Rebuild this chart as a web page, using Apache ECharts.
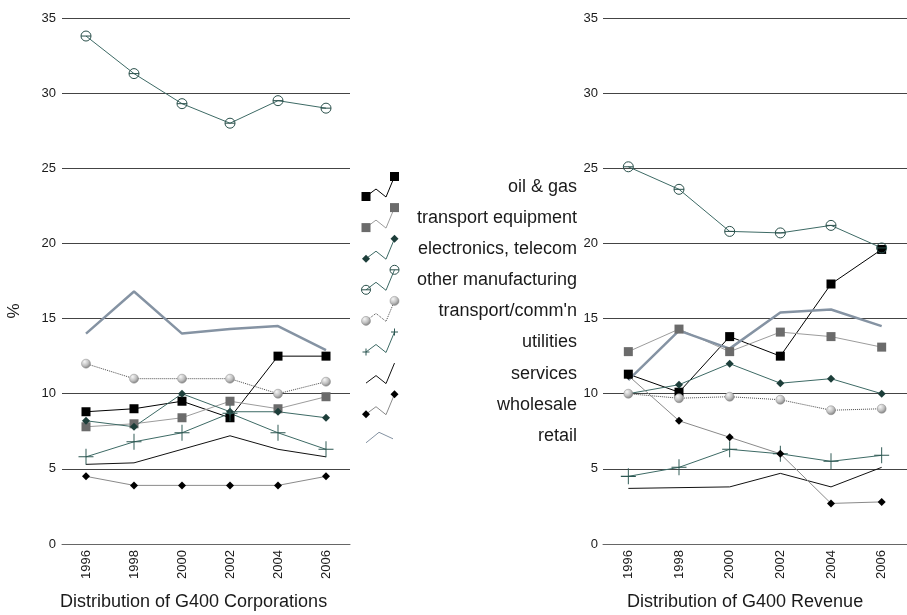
<!DOCTYPE html>
<html><head><meta charset="utf-8">
<script src="https://cdn.jsdelivr.net/npm/echarts@6/dist/echarts.min.js"></script>
<style>html,body{margin:0;padding:0;background:#fff}#c{width:907px;height:615px}</style>
</head><body><div id="c"></div>
<script>
// ---- data ----
const years = ['1996', '1998', '2000', '2002', '2004', '2006'];
const seriesNames = ['oil & gas', 'transport equipment', 'electronics, telecom', 'other manufacturing',
  "transport/comm'n", 'utilities', 'services', 'wholesale', 'retail'];
const panelTitles = ['Distribution of G400 Corporations', 'Distribution of G400 Revenue'];
const yAxisName = '%';
const yMin = 0, yMax = 35, yStep = 5;

// Distribution of G400 Corporations (%)
const oilGasCorp       = [8.8, 9.0, 9.5, 8.4, 12.5, 12.5];
const transEquipCorp   = [7.8, 8.0, 8.4, 9.5, 9.0, 9.8];
const electronicsCorp  = [8.2, 7.8, 10.0, 8.8, 8.8, 8.4];
const otherMfgCorp     = [33.8, 31.3, 29.3, 28.0, 29.5, 29.0];
const transCommCorp    = [12.0, 11.0, 11.0, 11.0, 10.0, 10.8];
const utilitiesCorp    = [5.8, 6.8, 7.4, 8.7, 7.4, 6.3];
const servicesCorp     = [5.3, 5.4, 6.3, 7.2, 6.3, 5.8];
const wholesaleCorp    = [4.5, 3.9, 3.9, 3.9, 3.9, 4.5];
const retailCorp       = [14.0, 16.8, 14.0, 14.3, 14.5, 12.9];

// Distribution of G400 Revenue (%)
const oilGasRev        = [11.3, 10.1, 13.8, 12.5, 17.3, 19.6];
const transEquipRev    = [12.8, 14.3, 12.8, 14.1, 13.8, 13.1];
const electronicsRev   = [10.0, 10.6, 12.0, 10.7, 11.0, 10.0];
const otherMfgRev      = [25.1, 23.6, 20.8, 20.7, 21.2, 19.7];
const transCommRev     = [10.0, 9.7, 9.8, 9.6, 8.9, 9.0];
const utilitiesRev     = [4.5, 5.1, 6.3, 6.0, 5.5, 5.9];
const servicesRev      = [3.7, 3.75, 3.8, 4.7, 3.8, 5.1];
const wholesaleRev     = [11.2, 8.2, 7.1, 6.0, 2.7, 2.8];
const retailRev        = [10.9, 14.2, 13.0, 15.4, 15.6, 14.5];

const corpData = [oilGasCorp, transEquipCorp, electronicsCorp, otherMfgCorp, transCommCorp, utilitiesCorp, servicesCorp, wholesaleCorp, retailCorp];
const revData  = [oilGasRev, transEquipRev, electronicsRev, otherMfgRev, transCommRev, utilitiesRev, servicesRev, wholesaleRev, retailRev];

// ---- styles ----
const FONT = '"Liberation Sans", Arial, sans-serif';
const TEXT = '#1a1a1a';
const teal = '#3d6a65';
const sphere = {type: 'radial', x: 0.35, y: 0.3, r: 0.75, colorStops: [
  {offset: 0, color: '#f6f6f6'}, {offset: 0.55, color: '#c0c0c0'}, {offset: 1, color: '#7a7a7a'}]};
const circleMinus = 'path://M5,0A5,5,0,1,1,5,10A5,5,0,1,1,5,0ZM0,5L10,5';
const plusSym = 'path://M0,5L10,5M5,0L5,10';
const styles = {
  'oil & gas':            {line: '#000', w: 1, symbol: 'rect', size: 9, fill: '#000'},
  'transport equipment':  {line: '#9c9c9c', w: 1, symbol: 'rect', size: 9, fill: '#6b6b6b'},
  'electronics, telecom': {line: teal, w: 1, symbol: 'diamond', size: 8, fill: '#1d3e3a'},
  'other manufacturing':  {line: teal, w: 1, symbol: circleMinus, size: 10, fill: 'rgba(0,0,0,0)', border: '#2a504b', bw: 1},
  "transport/comm'n":     {line: '#4a4a4a', w: 1, type: 'dotted', symbol: 'circle', size: 9, fill: sphere, border: '#8c8c8c', bw: 0.5},
  'utilities':            {line: teal, w: 1, symbol: plusSym, size: [15, 16], fill: 'rgba(0,0,0,0)', border: '#2c5752', bw: 1},
  'services':             {line: '#111', w: 1, symbol: 'none'},
  'wholesale':            {line: '#8a8a8a', w: 1, symbol: 'diamond', size: 8, fill: '#000'},
  'retail':               {line: '#8593a3', w: 2.5, symbol: 'none'}
};

function mkSeries(name, data, idx) {
  const s = styles[name];
  return {
    name: name, type: 'line', data: data,
    xAxisIndex: idx, yAxisIndex: idx,
    symbol: s.symbol, symbolSize: s.size || 0, showSymbol: s.symbol !== 'none',
    lineStyle: {color: s.line, width: s.w, type: s.type || 'solid'},
    itemStyle: {color: s.fill || s.line, borderColor: s.border || s.fill || s.line, borderWidth: s.bw || 0},
    emphasis: {disabled: true}, animation: false, z: 3
  };
}

const series = [];
seriesNames.forEach((n, i) => series.push(mkSeries(n, corpData[i], 0)));
seriesNames.forEach((n, i) => series.push(mkSeries(n, revData[i], 1)));

const grids = [
  {left: 62, top: 18, width: 288, height: 526},
  {left: 603, top: 18, width: 305, height: 526}
];

function xAx(idx) {
  return {
    type: 'category', gridIndex: idx, data: years, boundaryGap: true,
    axisLine: {show: true, lineStyle: {color: '#666', width: 1}},
    axisTick: {show: false},
    axisLabel: {rotate: 90, fontSize: 13, color: TEXT, fontFamily: FONT, margin: 6}
  };
}
function yAx(idx) {
  return {
    type: 'value', gridIndex: idx, min: yMin, max: yMax, interval: yStep,
    axisLine: {show: false}, axisTick: {show: false},
    axisLabel: {fontSize: 13, color: TEXT, fontFamily: FONT, margin: idx === 0 ? 6 : 5},
    splitLine: {show: true, lineStyle: {color: '#444', width: 1}}
  };
}

// ---- legend icon decoration ----
const legTop = 172, rowH = 31.1, itemH = 30, ix = 360;
function icon(name, i) {
  const cy = legTop + itemH / 2 + i * rowH;
  const s = styles[name];
  const els = [];
  if (name === 'retail') {
    els.push({type: 'polyline', shape: {points: [[366, cy + 7], [379, cy - 3.5], [393, cy + 3]]},
      style: {stroke: s.line, lineWidth: 1, fill: null}});
    return els;
  }
  const pts = [[366, cy + 9.5], [376, cy + 2], [386, cy + 10], [394.5, cy - 10.5]];
  els.push({type: 'polyline', shape: {points: pts}, style: {stroke: s.line, lineWidth: 1, fill: null, lineDash: s.type === 'dotted' ? [1, 1] : null}});
  [pts[0], pts[3]].forEach(p => {
    const [x, y] = p;
    if (s.symbol === 'rect') els.push({type: 'rect', shape: {x: x - 4.5, y: y - 4.5, width: 9, height: 9}, style: {fill: s.fill}});
    else if (s.symbol === 'diamond') els.push({type: 'polygon', shape: {points: [[x, y - 4], [x + 4, y], [x, y + 4], [x - 4, y]]}, style: {fill: s.fill}});
    else if (s.symbol === circleMinus) {
      els.push({type: 'circle', shape: {cx: x, cy: y, r: 4.5}, style: {fill: null, stroke: s.border, lineWidth: 1}});
      els.push({type: 'line', shape: {x1: x - 4.5, y1: y, x2: x + 4.5, y2: y}, style: {stroke: s.border, lineWidth: 1}});
    } else if (s.symbol === 'circle') {
      els.push({type: 'circle', shape: {cx: x, cy: y, r: 4.5}, style: {fill: new echarts.graphic.RadialGradient(0.35, 0.3, 0.75, sphere.colorStops), stroke: '#8c8c8c', lineWidth: 0.5}});
    } else if (s.symbol === plusSym) {
      els.push({type: 'line', shape: {x1: x - 3.5, y1: y, x2: x + 3.5, y2: y}, style: {stroke: s.border, lineWidth: 1}});
      els.push({type: 'line', shape: {x1: x, y1: y - 3.5, x2: x, y2: y + 3.5}, style: {stroke: s.border, lineWidth: 1}});
    }
  });
  return els;
}
let iconEls = [];
seriesNames.forEach((n, i) => { iconEls = iconEls.concat(icon(n, i)); });

const chart = echarts.init(document.getElementById('c'), null, {renderer: 'canvas'});
chart.setOption({
  backgroundColor: '#fff',
  animation: false,
  textStyle: {fontFamily: FONT},
  title: [
    {text: panelTitles[0], left: 60, top: 593, padding: 0, textStyle: {fontSize: 18, fontWeight: 'normal', color: TEXT, fontFamily: FONT}},
    {text: panelTitles[1], left: 627, top: 593, padding: 0, textStyle: {fontSize: 18, fontWeight: 'normal', color: TEXT, fontFamily: FONT}}
  ],
  legend: {
    data: seriesNames, orient: 'vertical', left: ix, top: legTop, padding: 0,
    itemWidth: 38, itemHeight: itemH, itemGap: rowH - itemH, icon: 'rect',
    itemStyle: {opacity: 0, borderWidth: 0, color: 'rgba(0,0,0,0)', borderColor: 'rgba(0,0,0,0)'},
    selectedMode: false,
    formatter: n => '{t|' + n + '}',
    textStyle: {rich: {t: {width: 174, height: 20, lineHeight: 20, align: 'right', fontSize: 18, color: TEXT, fontFamily: FONT}}}
  },
  grid: grids,
  xAxis: [xAx(0), xAx(1)],
  yAxis: [yAx(0), yAx(1)],
  series: series,
  graphic: [
    {type: 'group', z: 10, children: iconEls},
    {type: 'text', x: 14, y: 311, rotation: Math.PI / 2,
      style: {text: yAxisName, fontSize: 17, fontFamily: FONT, fill: TEXT, align: 'center', verticalAlign: 'middle'}}
  ]
});
</script></body></html>
